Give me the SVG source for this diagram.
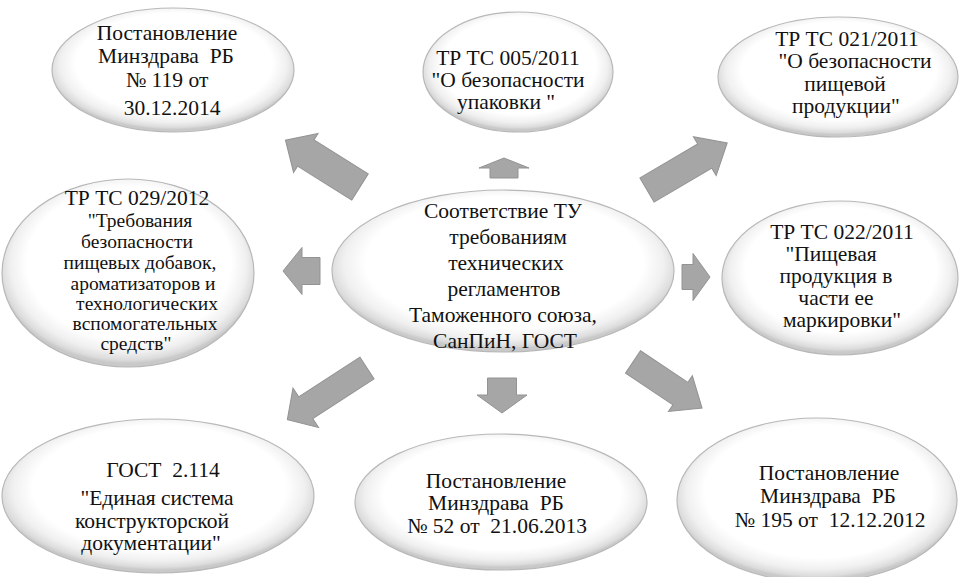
<svg xmlns="http://www.w3.org/2000/svg" width="960" height="577" viewBox="0 0 960 577">
<defs>
<radialGradient id="eg" cx="50%" cy="46%" r="52%" fx="52%" fy="40%">
<stop offset="0" stop-color="#ffffff"/>
<stop offset="0.78" stop-color="#ffffff"/>
<stop offset="0.9" stop-color="#f0f0f0"/>
<stop offset="0.97" stop-color="#dcdcdc"/>
<stop offset="1" stop-color="#c9c9c9"/>
</radialGradient>
</defs>
<style>
.bg{fill:#ffffff}
.el{fill:url(#eg);stroke:#b8b8b8;stroke-width:1.2}
.ar{fill:#a6a6a6;stroke:#939393;stroke-width:1}
.t{font-family:"Times New Roman",Tinos,"Liberation Serif","Noto Serif","DejaVu Serif",FreeSerif,Times,serif;font-size:21.5px;fill:#111111;text-anchor:middle}
.s{font-size:19.5px}
</style>
<rect class="bg" x="0" y="0" width="960" height="577"/>
<g id="connectors">
<polygon class="ar" transform="translate(360,187) rotate(212.1)" points="0,-15.5 64,-15.5 64,-23 88,0 64,23 64,15.5 0,15.5"/>
<polygon class="ar" transform="translate(504,178) rotate(-90)" points="0,-14 10,-14 10,-25 20,0 10,25 10,14 0,14"/>
<polygon class="ar" transform="translate(647,190) rotate(-30.4)" points="0,-14 67,-14 67,-22.5 93,0 67,22.5 67,14 0,14"/>
<polygon class="ar" transform="translate(320,271) rotate(180)" points="0,-13.5 18,-13.5 18,-23.5 37,0 18,23.5 18,13.5 0,13.5"/>
<polygon class="ar" transform="translate(682,277)" points="0,-12.5 11,-12.5 11,-23.5 28,0 11,23.5 11,12.5 0,12.5"/>
<polygon class="ar" transform="translate(367,368) rotate(147)" points="0,-13 73,-13 73,-23.5 95,0 73,23.5 73,13 0,13"/>
<polygon class="ar" transform="translate(502,378) rotate(90)" points="0,-14.5 17,-14.5 17,-25 35,0 17,25 17,14.5 0,14.5"/>
<polygon class="ar" transform="translate(633,362) rotate(33.7)" points="0,-13.5 57,-13.5 57,-21.5 83,0 57,21.5 57,13.5 0,13.5"/>
</g>
<g id="n-center" class="t">
<ellipse class="el" cx="503" cy="271" rx="171" ry="81"/>
<text x="503" y="218">Соответствие ТУ</text>
<text x="508" y="244">требованиям</text>
<text x="506" y="270">технических</text>
<text x="504" y="296">регламентов</text>
<text x="503" y="322">Таможенного союза,</text>
<text x="505" y="348">СанПиН, ГОСТ</text>
</g>
<g id="n-top-left" class="t">
<ellipse class="el" cx="173" cy="70" rx="121" ry="62"/>
<text x="167" y="40">Постановление</text>
<text x="166" y="63" xml:space="preserve">Минздрава  РБ</text>
<text x="167" y="87">№ 119 от</text>
<text x="172" y="115">30.12.2014</text>
</g>
<g id="n-top-center" class="t">
<ellipse class="el" cx="518" cy="72" rx="95" ry="60"/>
<text x="508" y="65">ТР ТС 005/2011</text>
<text x="508" y="87">"О безопасности</text>
<text x="506" y="109">упаковки "</text>
</g>
<g id="n-top-right" class="t">
<ellipse class="el" cx="838" cy="77" rx="120" ry="60"/>
<text x="847" y="46">ТР ТС 021/2011</text>
<text x="855" y="68">"О безопасности</text>
<text x="845" y="91">пищевой</text>
<text x="846" y="113">продукции"</text>
</g>
<g id="n-left" class="t">
<ellipse class="el" cx="128" cy="273" rx="126" ry="94"/>
<text x="137" y="205">ТР ТС 029/2012</text>
<text class="s" x="140" y="227">"Требования</text>
<text class="s" x="137" y="248">безопасности</text>
<text class="s" x="140" y="269">пищевых добавок,</text>
<text class="s" x="143" y="290">ароматизаторов и</text>
<text class="s" x="147" y="310">технологических</text>
<text class="s" x="145" y="330">вспомогательных</text>
<text class="s" x="136" y="350">средств"</text>
</g>
<g id="n-right" class="t">
<ellipse class="el" cx="840" cy="278" rx="118" ry="77"/>
<text x="842" y="239">ТР ТС 022/2011</text>
<text x="831" y="261">"Пищевая</text>
<text x="836" y="283">продукция в</text>
<text x="836" y="305">части ее</text>
<text x="842" y="327">маркировки"</text>
</g>
<g id="n-bottom-left" class="t">
<ellipse class="el" cx="158" cy="496" rx="156" ry="77"/>
<text x="163" y="477" xml:space="preserve">ГОСТ  2.114</text>
<text x="157" y="505">"Единая система</text>
<text x="152" y="528">конструкторской</text>
<text x="151" y="550">документации"</text>
</g>
<g id="n-bottom-center" class="t">
<ellipse class="el" cx="501" cy="502" rx="146" ry="68"/>
<text x="496" y="488">Постановление</text>
<text x="496" y="510" xml:space="preserve">Минздрава  РБ</text>
<text x="497" y="533" xml:space="preserve">№ 52 от  21.06.2013</text>
</g>
<g id="n-bottom-right" class="t">
<ellipse class="el" cx="817" cy="500" rx="140" ry="82"/>
<text x="829" y="480">Постановление</text>
<text x="828" y="503" xml:space="preserve">Минздрава  РБ</text>
<text x="830" y="527" xml:space="preserve">№ 195 от  12.12.2012</text>
</g>
</svg>
